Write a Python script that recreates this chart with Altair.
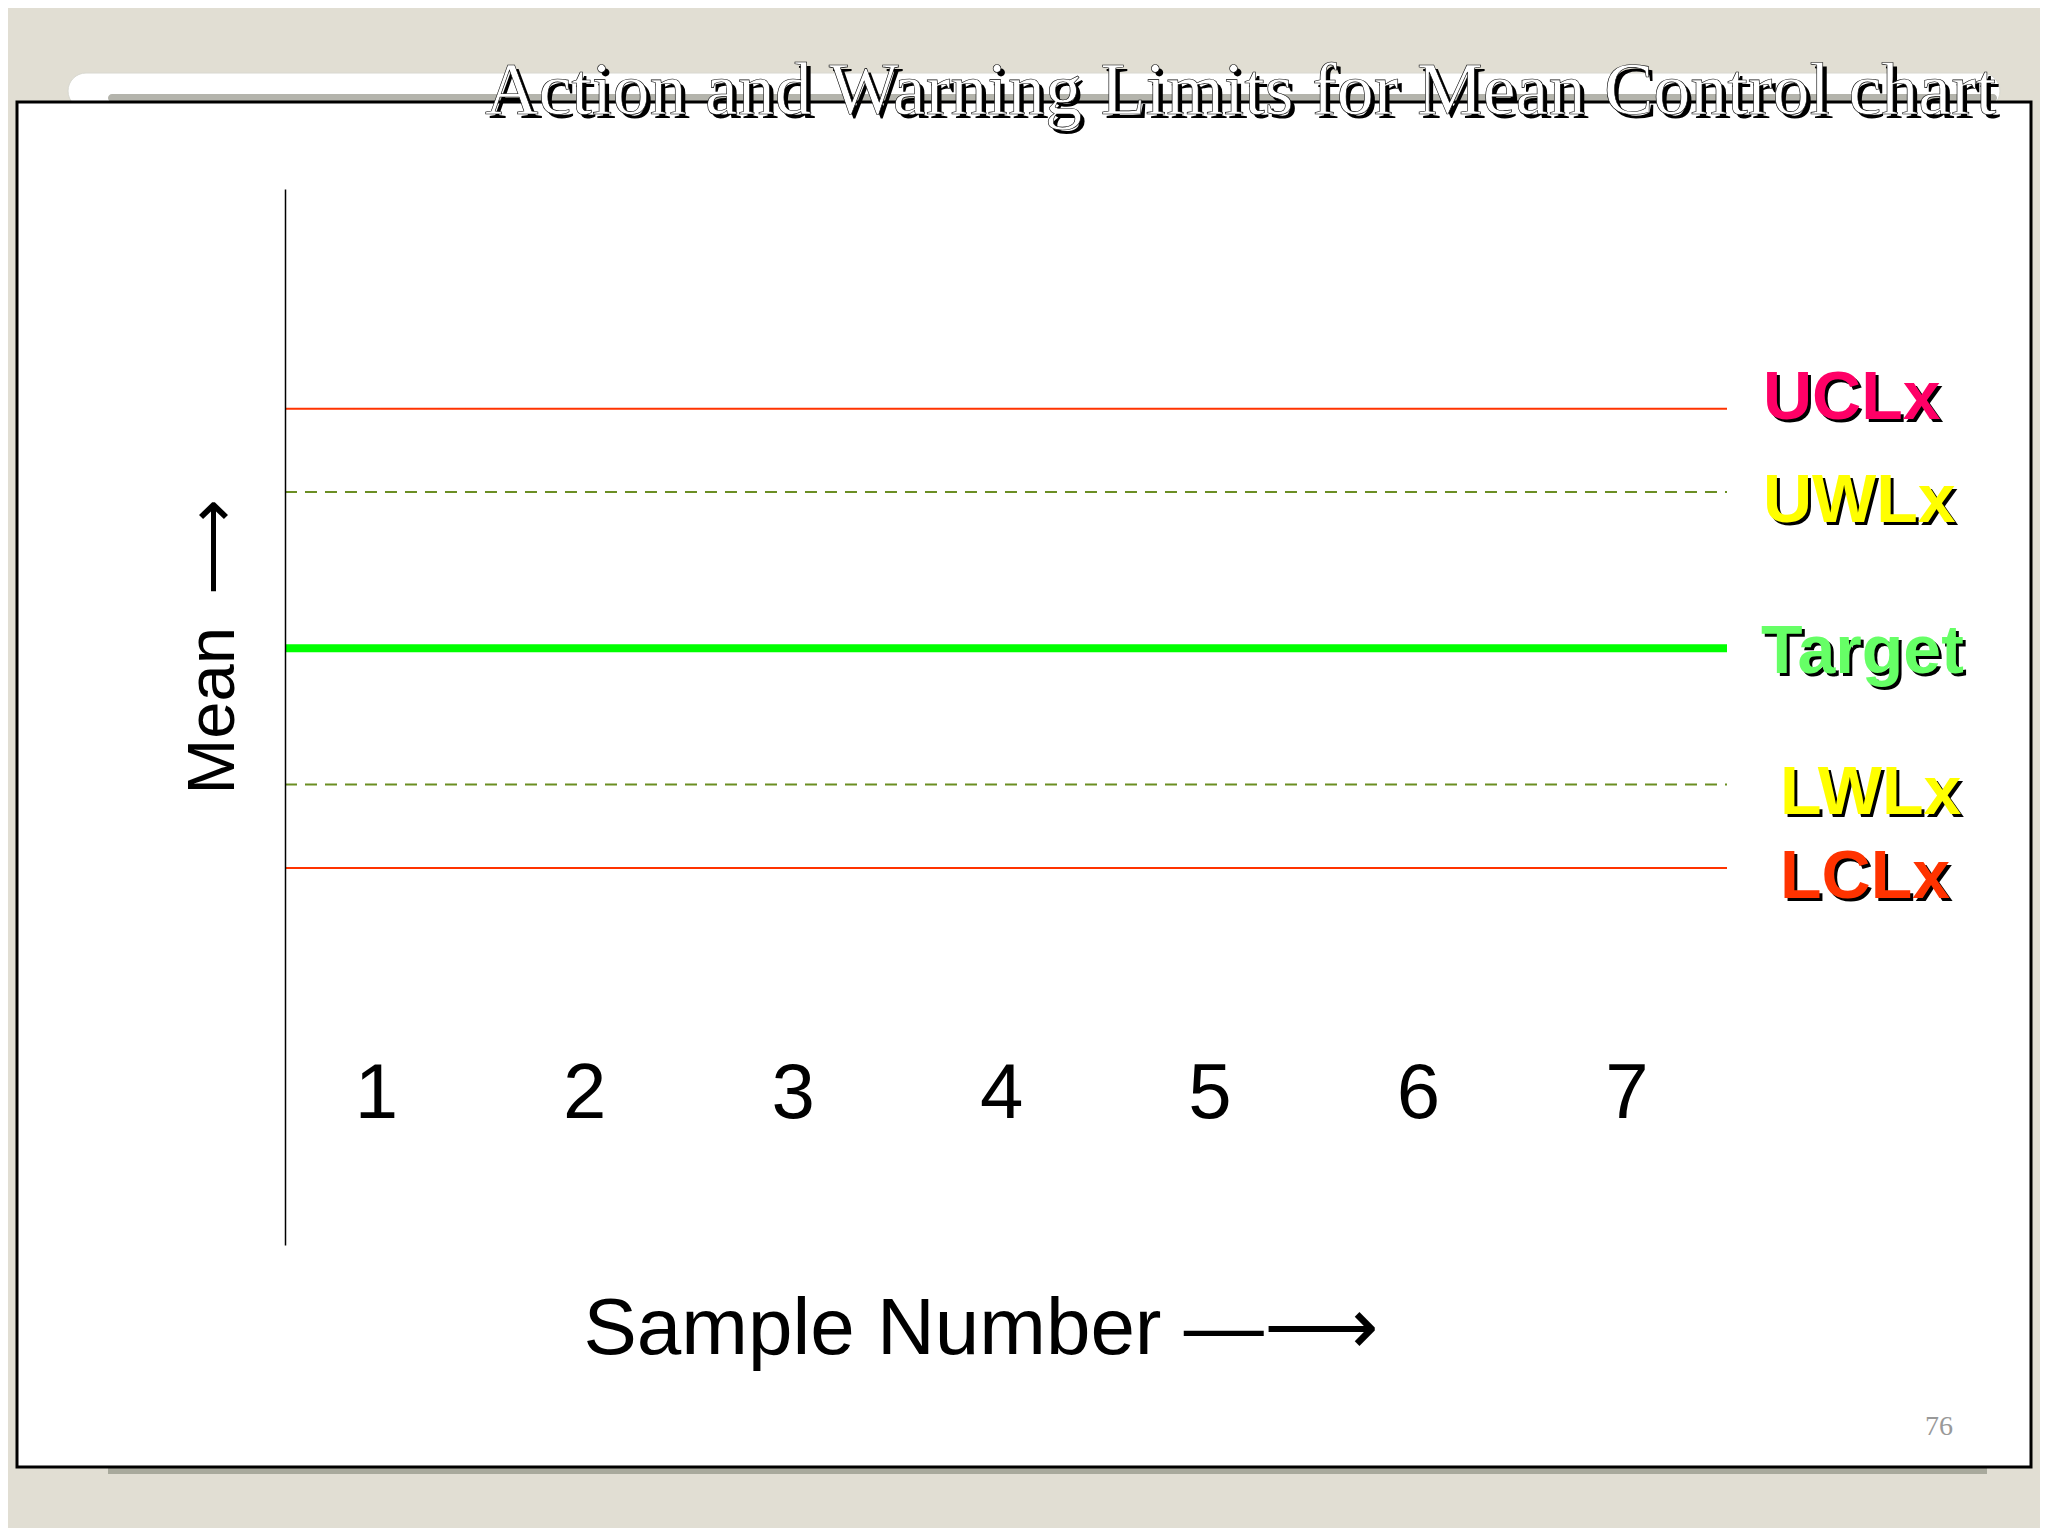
import altair as alt
import pandas as pd

# ---------------- data ----------------
limit_names = ["UCLx", "UWLx", "Target", "LWLx", "LCLx"]
limit_values = [79.2, 71.3, 56.5, 43.6, 35.7]
sample_numbers = [1, 2, 3, 4, 5, 6, 7]
title_text = "Action and Warning Limits for Mean Control chart"
x_title = "Sample Number  \u2014\u27f6"
y_title = "Mean  \u2009\u27f6"
page_number = "76"

# ---------------- styles ----------------
X_DOMAIN = [0.564, 7.483]
Y_DOMAIN = [0, 100]
line_colors = ["#FF3300", "#6B8E23", "#00FF00", "#6B8E23", "#FF3300"]
line_widths = [2, 2, 8, 2, 2]
line_dashes = [[1, 0], [12, 8], [1, 0], [12, 8], [1, 0]]
label_colors = ["#FF0066", "#FFFF00", "#66FF66", "#FFFF00", "#FF3300"]
label_x = [1478, 1478, 1476, 1495, 1495]
label_dy = [10, 30, 25, 29, 30]
SANS = "Liberation Sans"
SERIF = "Liberation Serif"

lines_df = pd.DataFrame({"name": limit_names, "value": limit_values})

x_scale = alt.Scale(domain=X_DOMAIN, nice=False, zero=False)
y_scale = alt.Scale(domain=Y_DOMAIN, nice=False, zero=False)

x_axis = alt.Axis(
    values=sample_numbers, title=x_title, domain=False, ticks=False, tickSize=0,
    grid=False, labelFont=SANS, labelFontSize=78, labelColor="black",
    labelPadding=0, labelFlush=False, labelOverlap=False, offset=-190,
    titleFont=SANS, titleFontSize=80, titleFontWeight="normal", titleColor="black",
    titleX=298, titleY=298, titleAlign="left", titleBaseline="alphabetic", zindex=1,
)
y_axis = alt.Axis(
    title=y_title, domain=True, domainColor="black", domainWidth=1.5,
    ticks=False, tickSize=0, labels=False, grid=False,
    titleFont=SANS, titleFontSize=67, titleFontWeight="normal", titleColor="black",
    titleAngle=270, titleX=-52, titleY=605, titleAlign="left",
    titleBaseline="alphabetic", zindex=1,
)


def box(x, x2, y, y2, **kw):
    return alt.Chart(alt.Data(values=[{}])).mark_rect(**kw).encode(
        x=alt.value(x), x2=alt.value(x2), y=alt.value(y), y2=alt.value(y2)
    )


tab = box(-217, 1715, -116, -80, fill="white", stroke="#D8D8D0", strokeWidth=1, cornerRadius=30)
tab_band = box(-177, 1712, -95, -87, fill="#B4B4AC", cornerRadius=4)
bottom_shadow = box(-177, 1702, 1278, 1285, fill="#A8A99C")
panel = box(-268, 1746, -87, 1278, fill="white", stroke="black", strokeWidth=3)

rule_layers = []
for i, name in enumerate(limit_names):
    rule_layers.append(
        alt.Chart(lines_df)
        .transform_filter(alt.datum.name == name)
        .mark_rule(color=line_colors[i], strokeWidth=line_widths[i], strokeDash=line_dashes[i])
        .encode(
            x=alt.XDatum(X_DOMAIN[0], type="quantitative", scale=x_scale, axis=x_axis),
            x2=alt.X2Datum(X_DOMAIN[1]),
            y=alt.Y("value:Q", scale=y_scale, axis=y_axis),
        )
    )

label_layers = []
for i, name in enumerate(limit_names):
    base = alt.Chart(lines_df).transform_filter(alt.datum.name == name)
    common = dict(align="left", baseline="alphabetic", font=SANS, fontSize=68, fontWeight="bold")
    shadow = base.mark_text(color="black", dx=3, dy=label_dy[i] + 3, **common).encode(
        x=alt.value(label_x[i]), y=alt.Y("value:Q", scale=y_scale, axis=y_axis), text="name:N"
    )
    front = base.mark_text(color=label_colors[i], dy=label_dy[i], **common).encode(
        x=alt.value(label_x[i]), y=alt.Y("value:Q", scale=y_scale, axis=y_axis), text="name:N"
    )
    label_layers += [shadow, front]

title_data = alt.Data(values=[{"t": title_text}])
title_common = dict(align="left", baseline="alphabetic", font=SERIF, fontSize=74)
title_shadow = alt.Chart(title_data).mark_text(color="black", **title_common).encode(
    x=alt.value(204), y=alt.value(-71), text="t:N"
)
title_front = alt.Chart(title_data).mark_text(
    fill="white", stroke="black", strokeWidth=0.6, **title_common
).encode(x=alt.value(200), y=alt.value(-75), text="t:N")

page_num = alt.Chart(alt.Data(values=[{"p": page_number}])).mark_text(
    align="left", baseline="alphabetic", font=SERIF, fontSize=28, color="#999999"
).encode(x=alt.value(1640), y=alt.value(1246), text="p:N")

chart = alt.layer(
    tab, tab_band, bottom_shadow, panel, *rule_layers, *label_layers,
    title_shadow, title_front, page_num,
).properties(
    width=1442, height=1056,
    padding={"left": 277, "top": 181, "right": 313, "bottom": 283},
    autosize=alt.AutoSizeParams(type="none"),
    background="#E1DED3",
).configure_view(strokeWidth=0)

chart.save("out.html", embed_options={"renderer": "svg", "actions": False})
